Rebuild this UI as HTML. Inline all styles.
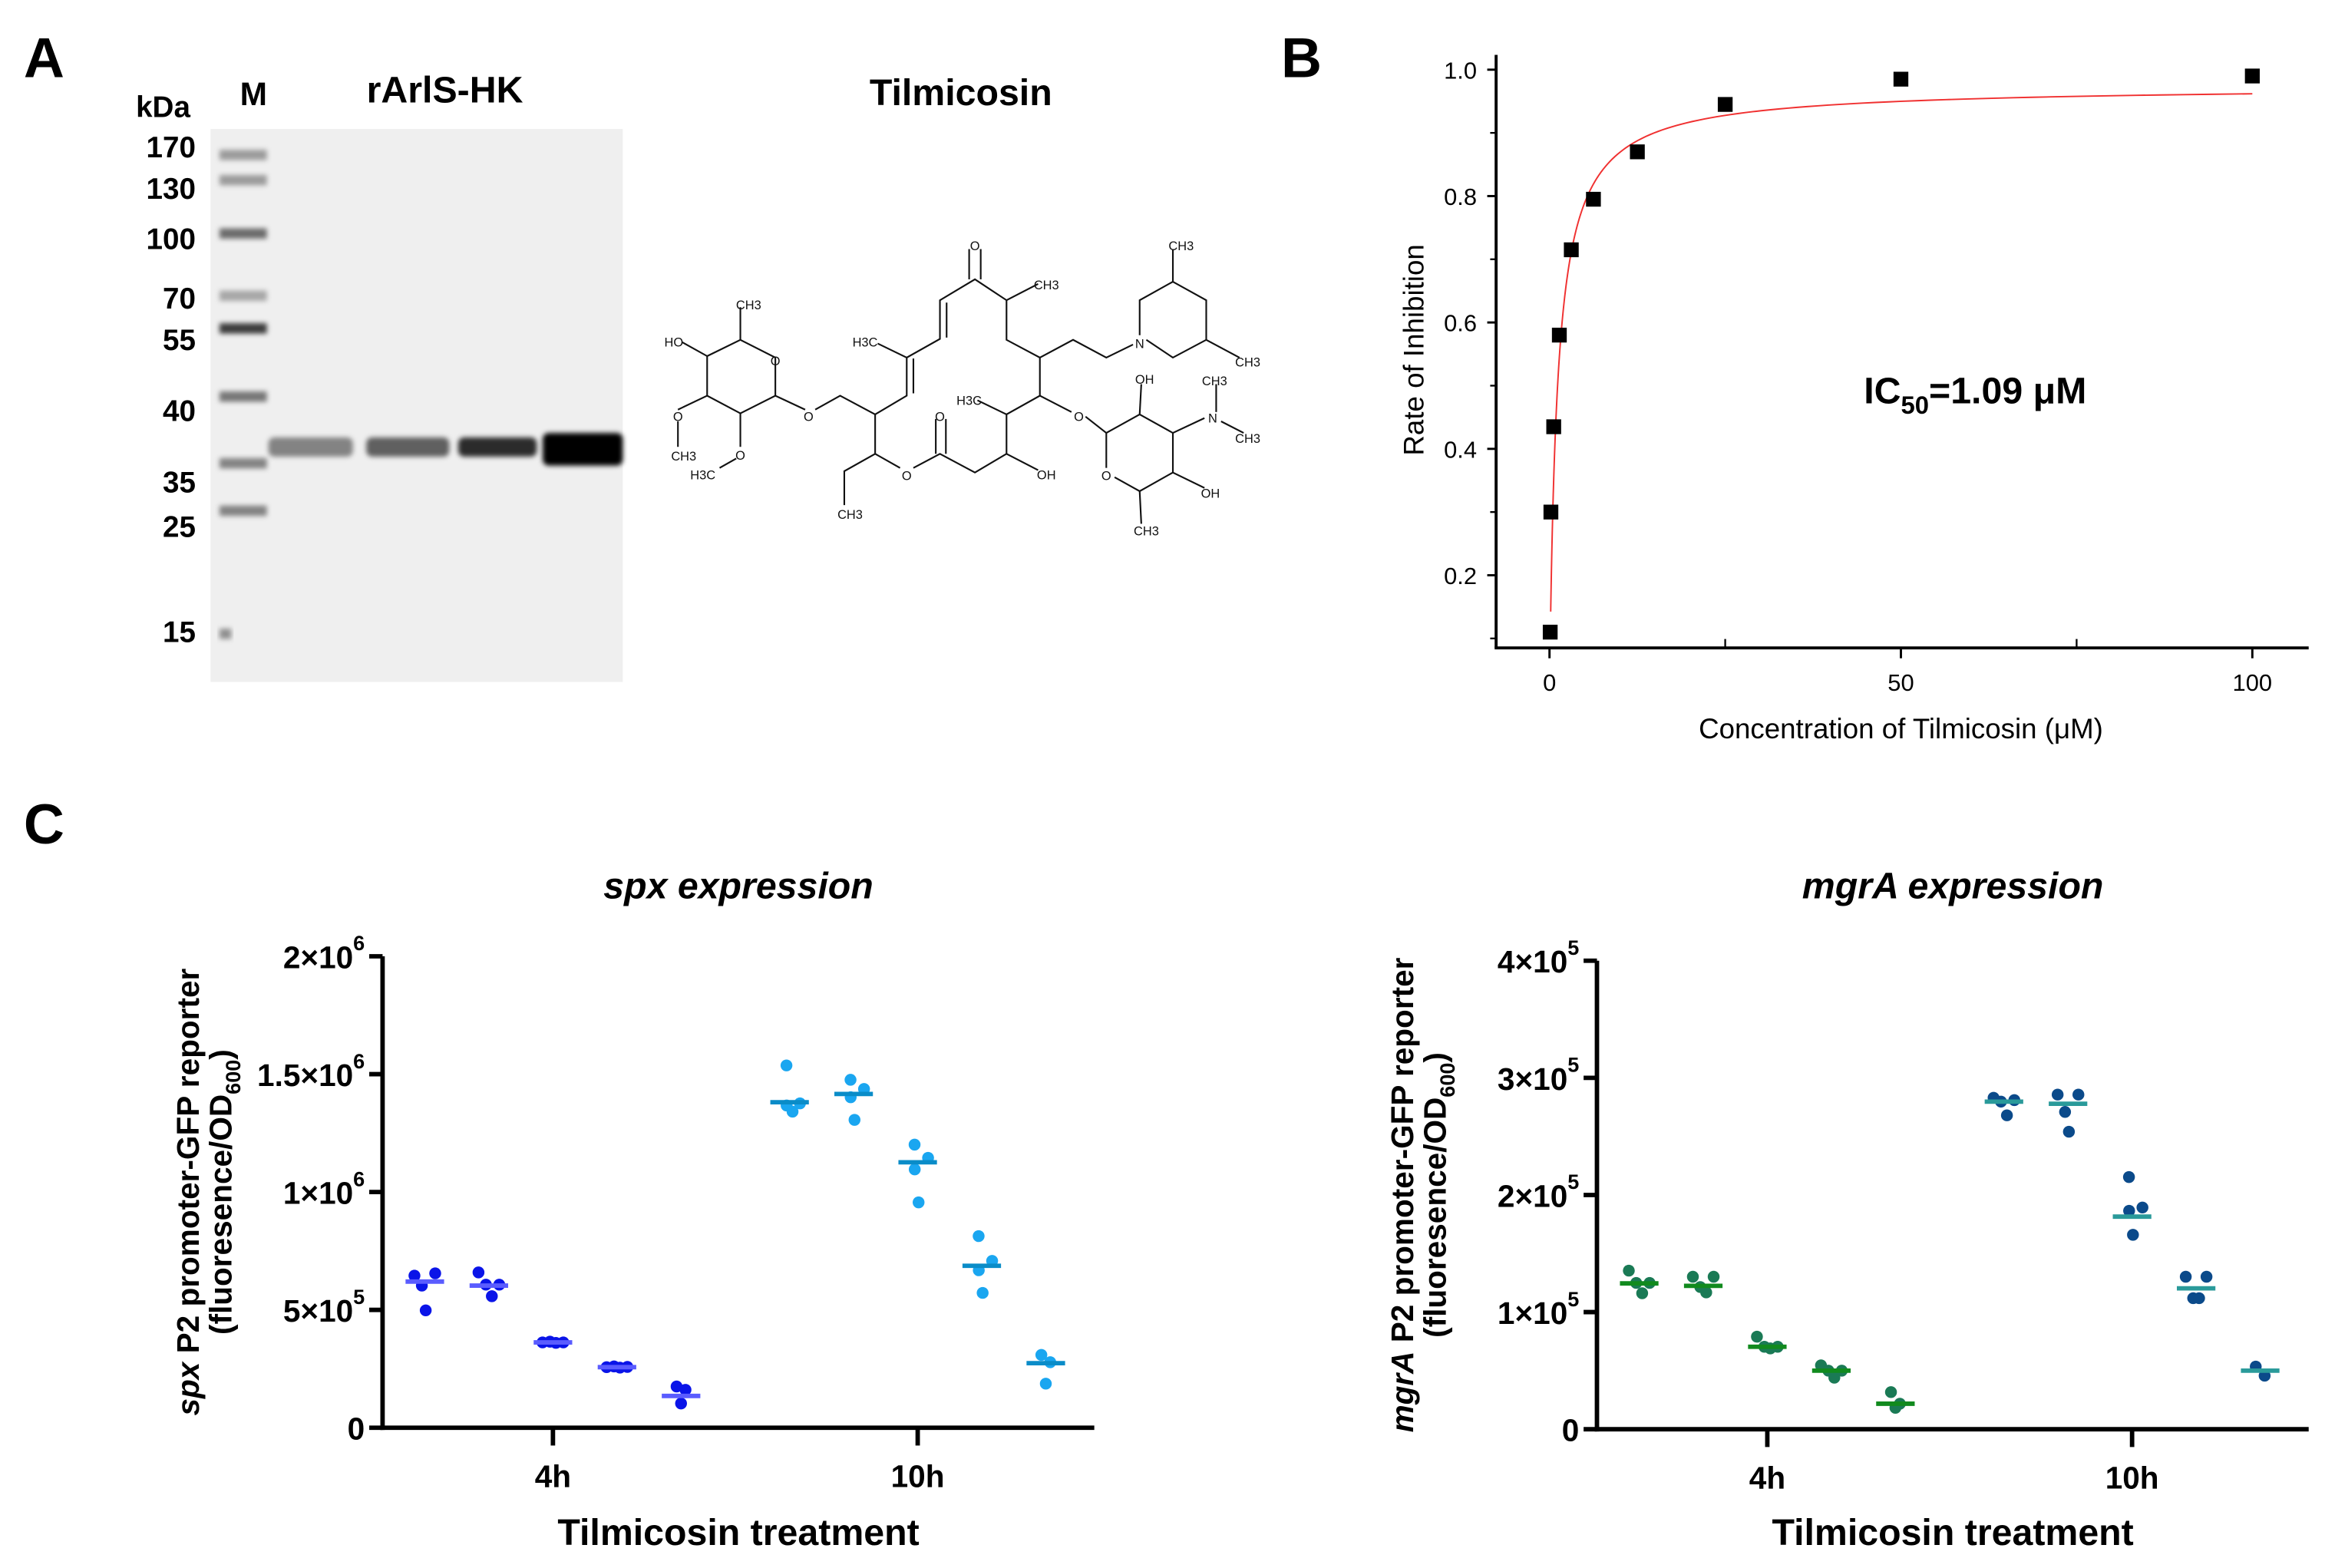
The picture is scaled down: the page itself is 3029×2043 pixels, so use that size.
<!DOCTYPE html>
<html><head><meta charset="utf-8">
<style>
html,body{margin:0;padding:0;background:#fff;}
svg{display:block;font-family:"Liberation Sans",Arial,sans-serif;}
.b{font-weight:bold;}
</style></head>
<body>
<svg id="fig" width="3029" height="2043" viewBox="0 0 1568 1057.6" xmlns="http://www.w3.org/2000/svg">
<defs>
<filter id="blur1" x="-20%" y="-50%" width="140%" height="200%"><feGaussianBlur stdDeviation="1.6"/></filter>
</defs>
<rect width="1568" height="1058" fill="#fff"/>
<text x="16" y="52" font-size="38" class="b">A</text>
<text x="864" y="52" font-size="38" class="b">B</text>
<text x="16" y="569" font-size="38" class="b">C</text>

<g id="gel">
<rect x="142" y="87" width="278" height="373" fill="#efefef"/>
<text x="110" y="79" font-size="20" class="b" text-anchor="middle">kDa</text>
<text x="171" y="71" font-size="22" class="b" text-anchor="middle">M</text>
<text x="300" y="69" font-size="25" class="b" text-anchor="middle">rArlS-HK</text>
<text x="648" y="71" font-size="25" class="b" text-anchor="middle">Tilmicosin</text>
</g>
<g id="struct" stroke="#111" stroke-width="1.1" fill="none"></g>
<g id="panelB"></g>
<g id="panelC1"></g>
<g id="panelC2"></g>
</svg>
<script>
const NS='http://www.w3.org/2000/svg';
function mk(parent,tag,attrs,txt){const e=document.createElementNS(NS,tag);for(const k in attrs)e.setAttribute(k,attrs[k]);if(txt!==undefined)e.textContent=txt;parent.appendChild(e);return e;}

// ---------- Panel A: gel ----------
const ladderLabels=['170','130','100','70','55','40','35','25','15'];
const ladderY=[104,121,157,199,221,267,312,344,427];
const ladderLabelY=[99,127,161,201,229,277,325,355,426];
const gel=document.getElementById('gel');
ladderLabels.forEach((l,i)=>{
  const t=mk(gel,'text',{x:132,y:ladderLabelY[i]+7,'font-size':20,'font-weight':'bold','text-anchor':'end'},l);
  
  
  const dark=[0.35,0.35,0.55,0.3,0.75,0.5,0.45,0.45,0.4][i];
  const b=mk(gel,'rect',{x:148,y:ladderY[i]-3,width:i==8?8:32,height:7,fill:'#000','fill-opacity':dark,filter:'url(#blur1)'});
  
  
});
const laneX=[[181,238],[247,303],[309,362],[366,420]];
const laneDark=[0.45,0.6,0.82,1];
laneX.forEach((lx,i)=>{
  const h=i==3?22:13;
  const b=mk(gel,'rect',{x:lx[0],y:i==3?292:295,width:lx[1]-lx[0],height:h,rx:4,fill:'#000','fill-opacity':laneDark[i],filter:'url(#blur1)'});
  
  
});

// ---------- Tilmicosin structure ----------
const st=document.getElementById('struct');
const SX=0.561,SY=0.314;
const bonds=[
 [[850,765],[890,730],[932,768],[932,850],[890,888],[850,850],[850,765]],
 [[890,730],[890,660]],[[850,765],[820,735]],[[850,850],[815,880]],[[815,905],[815,960]],
 [[890,888],[890,960]],[[885,985],[865,1005]],[[932,850],[968,880]],[[980,880],[1010,850],[1052,890]],
 [[1052,890],[1090,850],[1090,768],[1130,728],[1130,645],[1172,600],[1210,645],[1210,730],[1250,768],[1250,850],[1210,890],[1210,975],[1172,1015],[1130,975],[1098,1005]],
 [[1082,1005],[1052,975],[1052,890]],
 [[1165,600],[1165,535]],[[1179,600],[1179,535]],[[1138,650],[1138,725]],[[1098,770],[1098,845]],
 [[1210,645],[1248,610]],[[1090,768],[1055,738]],[[1250,768],[1290,730],[1330,768],[1362,740]],
 [[1378,730],[1410,768],[1450,730],[1450,645],[1410,605],[1370,645],[1370,720]],
 [[1410,605],[1410,535]],[[1450,730],[1490,768]],[[1250,850],[1288,885]],[[1305,895],[1330,930]],
 [[1330,930],[1370,890],[1410,930],[1410,1015],[1370,1055],[1340,1025]],[[1330,1005],[1330,930]],
 [[1370,890],[1372,825]],[[1410,930],[1448,898]],[[1462,885],[1462,825]],[[1468,905],[1495,930]],
 [[1410,1015],[1448,1048]],[[1370,1055],[1372,1125]],[[1210,890],[1175,860]],[[1210,975],[1248,1010]],
 [[1125,975],[1125,900]],[[1137,975],[1137,900]],[[1052,975],[1015,1012],[1015,1085]]
];
bonds.forEach((b,i)=>{
  const p=mk(st,'polyline',{points:b.map(q=>(q[0]*SX).toFixed(1)+','+(q[1]*SY).toFixed(1)).join(' ')});
  
  
});
const atoms=[['CH3',900,655],['HO',810,735],['O',932,775],['O',815,895],['CH3',822,980],['O',890,978],['H3C',845,1020],['O',972,895],
['O',1172,528],['CH3',1258,612],['H3C',1040,735],['N',1370,738],['CH3',1420,528],['CH3',1500,778],['O',1297,895],
['OH',1376,815],['N',1458,898],['CH3',1460,818],['CH3',1500,942],['O',1330,1022],['OH',1455,1060],['CH3',1378,1140],
['H3C',1165,860],['OH',1258,1020],['O',1130,895],['O',1090,1022],['CH3',1022,1105]];
atoms.forEach((a,i)=>{
  const t=mk(st,'text',{x:(a[1]*SX).toFixed(1),y:(a[2]*SY+3).toFixed(1),'font-size':8.5,'text-anchor':'middle',fill:'#111',stroke:'none'},a[0]);
  
  
});

// ---------- Panel B ----------
const concX=[0.1,0.2,0.6,1.4,3.1,6.25,12.5,25,50,100];
const inhibY=[0.11,0.30,0.435,0.58,0.715,0.795,0.87,0.945,0.985,0.99];
const fitTop=0.975, fitIC50=1.09, fitHill=0.95, fitBottom=0.0;
const bXTicks=[0,50,100];
const bYTicks=[0.2,0.4,0.6,0.8,1.0];
const B=document.getElementById('panelB');
const bx=v=>1045+v*4.74, by=v=>388-(v-0.2)*426.25;
let e;
e=mk(B,'line',{x1:1009,y1:37,x2:1009,y2:437,stroke:'#000','stroke-width':2});

e=mk(B,'line',{x1:1008,y1:437,x2:1557,y2:437,stroke:'#000','stroke-width':2});

bYTicks.forEach(v=>{
  mk(B,'line',{x1:1003,y1:by(v),x2:1009,y2:by(v),stroke:'#000','stroke-width':1.5});
  const t=mk(B,'text',{x:996,y:by(v)+6,'font-size':16,'text-anchor':'end'},v.toFixed(1));
  
  
});
[0.1,0.3,0.5,0.7,0.9].forEach(v=>mk(B,'line',{x1:1005,y1:by(v),x2:1009,y2:by(v),stroke:'#000','stroke-width':1.2}));
[25,75].forEach(v=>mk(B,'line',{x1:bx(v),y1:437,x2:bx(v),y2:431,stroke:'#000','stroke-width':1.2}));
bXTicks.forEach(v=>{
  mk(B,'line',{x1:bx(v),y1:437,x2:bx(v),y2:444,stroke:'#000','stroke-width':1.5});
  const t=mk(B,'text',{x:bx(v),y:466,'font-size':16,'text-anchor':'middle'},String(v));
  
  
});
const fy=x=>fitBottom+(fitTop-fitBottom)*Math.pow(x,fitHill)/(Math.pow(fitIC50,fitHill)+Math.pow(x,fitHill));
let pts=[];
for(let x=0.17;x<100;x*=1.04){pts.push(bx(x).toFixed(2)+','+by(fy(x)).toFixed(2));}
pts.push(bx(100).toFixed(2)+','+by(fy(100)).toFixed(2));
e=mk(B,'polyline',{points:pts.join(' '),fill:'none',stroke:'#f03030','stroke-width':1});

concX.forEach((c,i)=>{
  const r=mk(B,'rect',{x:bx(c)-5,y:by(inhibY[i])-5,width:10,height:10,fill:'#000'});
  
  
});
e=mk(B,'text',{x:960,y:236,'font-size':19,'text-anchor':'middle',transform:'rotate(-90 960 236)'},'Rate of Inhibition');

e=mk(B,'text',{x:1282,y:498,'font-size':19,'text-anchor':'middle'},'Concentration of Tilmicosin (μM)');

e=mk(B,'text',{x:1257,y:272,'font-size':25,'font-weight':'bold'});

e.innerHTML='IC<tspan font-size="17" dy="7">50</tspan><tspan dy="-7">=1.09 μM</tspan>';

// ---------- Panel C ----------
const groupTimes=['4h','10h'];
const spxPoints=[[0.645,0.655,0.603,0.498],[0.659,0.607,0.607,0.558],[0.362,0.362,0.365,0.360],[0.257,0.258,0.260,0.255],[0.175,0.161,0.103],
 [1.537,1.376,1.367,1.341],[1.476,1.437,1.402,1.306],[1.201,1.145,1.096,0.956],[0.813,0.708,0.668,0.572],[0.309,0.278,0.187]];
const spxMedians=[0.62,0.603,0.362,0.257,0.135,1.381,1.416,1.126,0.687,0.274];
const mgrPoints=[[1.354,1.249,1.249,1.161],[1.302,1.302,1.214,1.168],[0.79,0.704,0.704,0.69],[0.545,0.50,0.50,0.44],[0.317,0.218,0.183],
 [2.83,2.81,2.797,2.68],[2.857,2.857,2.709,2.54],[2.153,1.893,1.865,1.66],[1.302,1.302,1.119,1.119],[0.535,0.457]];
const mgrMedians=[1.245,1.224,0.704,0.50,0.218,2.797,2.779,1.815,1.203,0.50];
const spxTicks=[0,0.5,1,1.5,2];
const spxTickLabels=[['0',''],['5×10','5'],['1×10','6'],['1.5×10','6'],['2×10','6']];
const mgrTicks=[0,1,2,3,4];
const mgrTickLabels=[['0',''],['1×10','5'],['2×10','5'],['3×10','5'],['4×10','5']];

function drawC(gid,axX,y0,yTop,maxV,ticks,tickLabels,points,medians,cols,title,gene,prefix){
  const G=document.getElementById(gid);
  const yv=v=>y0-(v/maxV)*(y0-yTop);
  const gx=i=>axX+28.5+i*43.2+(i>=5?30:0);
  let e;
  e=mk(G,'line',{x1:axX,y1:yTop,x2:axX,y2:y0+1.5,stroke:'#000','stroke-width':3});
  
  e=mk(G,'line',{x1:axX-1.5,y1:y0,x2:axX+480,y2:y0,stroke:'#000','stroke-width':3});
  
  ticks.forEach((v,i)=>{
    mk(G,'line',{x1:axX-9,y1:yv(v),x2:axX,y2:yv(v),stroke:'#000','stroke-width':3});
    const t=mk(G,'text',{x:axX-12,y:yv(v)+8,'font-size':21,'font-weight':'bold','text-anchor':'end'});
    
    
    t.innerHTML=tickLabels[i][0]+(tickLabels[i][1]?'<tspan font-size="14" dy="-12">'+tickLabels[i][1]+'</tspan>':'');
  });
  groupTimes.forEach((g,k)=>{
    const x=gx(2+k*5);
    mk(G,'line',{x1:x,y1:y0,x2:x,y2:y0+12,stroke:'#000','stroke-width':3});
    const t=mk(G,'text',{x:x,y:y0+40,'font-size':21,'font-weight':'bold','text-anchor':'middle'},g);
    
    
  });
  points.forEach((arr,i)=>{
    const c=cols[i<5?0:1];
    const jit=arr.length==4?[-7,7,-2,2]:[-3,3,0];
    arr.forEach((v,j)=>{
      const d=mk(G,'circle',{cx:gx(i)+jit[j]*(Math.abs(v-medians[i])<0.03*maxV?1:0.3),cy:yv(v),r:4,fill:c.dot});
      
      
    });
    const m=mk(G,'line',{x1:gx(i)-13,y1:yv(medians[i]),x2:gx(i)+13,y2:yv(medians[i]),stroke:c.med,'stroke-width':3});
    
    
  });
  const cx=axX+240;
  e=mk(G,'text',{x:cx,y:606,'font-size':25,'font-weight':'bold','font-style':'italic','text-anchor':'middle'},title);
  
  e=mk(G,'text',{x:cx,y:1042,'font-size':25,'font-weight':'bold','text-anchor':'middle'},'Tilmicosin treatment');
  
  const ty=(y0+yTop)/2;
  e=mk(G,'text',{x:axX-124,y:ty,'font-size':21,'font-weight':'bold','text-anchor':'middle',transform:'rotate(-90 '+(axX-124)+' '+ty+')'});
  
  e.innerHTML='<tspan font-style="italic">'+gene+'</tspan> P2 promoter-GFP reporter';
  e=mk(G,'text',{x:axX-102,y:ty,'font-size':21,'font-weight':'bold','text-anchor':'middle',transform:'rotate(-90 '+(axX-102)+' '+ty+')'});
  
  e.innerHTML='(fluoresence/OD<tspan font-size="14" dy="6">600</tspan><tspan dy="-6">)</tspan>';
}
drawC('panelC1',258,963,645,2,spxTicks,spxTickLabels,spxPoints,spxMedians,
  [{dot:'#0a14e8',med:'#5a5cff'},{dot:'#1aa6f0',med:'#0a8cc8'}],'spx expression','spx','spx');
drawC('panelC2',1077,964,648,4,mgrTicks,mgrTickLabels,mgrPoints,mgrMedians,
  [{dot:'#1a7a55',med:'#118a1e'},{dot:'#0b4a8a',med:'#2a9a9a'}],'mgrA expression','mgrA','mgra');
</script>
</body></html>
